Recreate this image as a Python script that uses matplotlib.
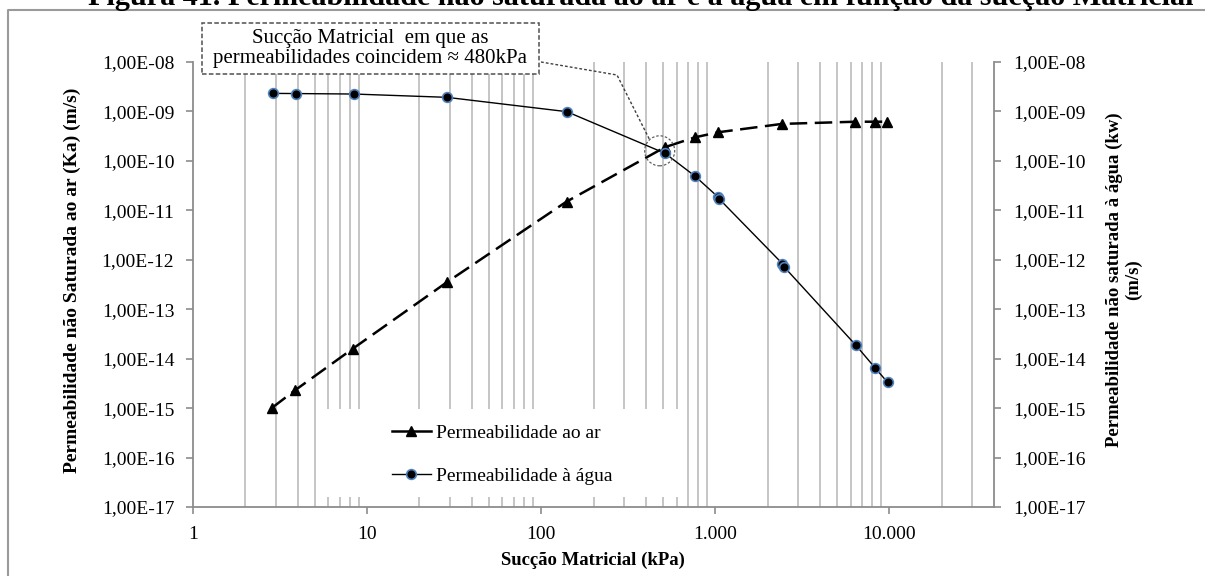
import numpy as np
import matplotlib.pyplot as plt
from matplotlib.ticker import FixedLocator, FixedFormatter, NullLocator
from matplotlib.lines import Line2D
from matplotlib.patches import Rectangle, Ellipse

plt.rcParams['font.family'] = ['Liberation Serif', 'DejaVu Serif']

# Dados (succao em kPa, permeabilidade em m/s)
succao_ar = [2.83, 3.86, 8.3, 28.7, 140, 516, 767, 1045, 2420, 6400, 8270, 9750]
k_ar = [1.0e-15, 2.3e-15, 1.6e-14, 3.5e-13, 1.5e-11, 1.9e-10, 3.0e-10,
        3.8e-10, 5.6e-10, 6.2e-10, 6.2e-10, 6.2e-10]

succao_agua = [2.87, 3.9, 8.4, 28.7, 140.5, 516, 767, 1040, 1055, 2430, 2480,
               6440, 8300, 9800]
k_agua = [2.32e-9, 2.3e-9, 2.25e-9, 1.93e-9, 9.9e-10, 1.42e-10, 4.9e-11,
          1.85e-11, 1.7e-11, 8.4e-13, 7.3e-13, 1.86e-14, 6.5e-15, 3.3e-15]

x_ticks = [1, 10, 100, 1000, 10000]
x_labels = ['1', '10', '100', '1.000', '10.000']
y_exps = list(range(-17, -7))
y_labels = ['1,00E-%02d' % (-e) for e in y_exps]

titulo = 'Figura 41. Permeabilidade não saturada ao ar e à água em função da sucção Matricial'
nota = 'Sucção Matricial  em que as\npermeabilidades coincidem ≈ 480kPa'
ponto_cruz = (480, 1.6e-10)

W, H = 1205, 576
fig = plt.figure(figsize=(W / 100, H / 100), dpi=100)
ax = fig.add_axes([193 / W, 1 - 507 / H, (994 - 193) / W, (507 - 62) / H])
ax2 = ax.twinx()

grid_c = '#c0c0c0'
spine_c = '#8c8c8c'

for a in (ax, ax2):
    a.set_xscale('log')
    a.set_yscale('log')
    a.set_xlim(1, 40000)
    a.set_ylim(1e-17, 1e-8)
    a.yaxis.set_major_locator(FixedLocator([10.0 ** e for e in y_exps]))
    a.yaxis.set_major_formatter(FixedFormatter(y_labels))
    a.yaxis.set_minor_locator(NullLocator())
    a.spines['top'].set_visible(False)
    for s in a.spines.values():
        s.set_color(spine_c)
        s.set_linewidth(1.3)
    a.tick_params(which='major', direction='out', length=5, width=1.2,
                  color=spine_c, labelsize=14, pad=8.5)

ax.spines['right'].set_visible(False)
ax2.spines['left'].set_visible(False)
ax2.spines['bottom'].set_visible(False)

minors = [k * 10 ** d for d in range(0, 5) for k in range(2, 10) if k * 10 ** d < 40000]
ax.xaxis.set_major_locator(FixedLocator(x_ticks))
ax.xaxis.set_major_formatter(FixedFormatter(x_labels))
ax.xaxis.set_minor_locator(FixedLocator(minors))
ax.tick_params(which='minor', length=0)
ax2.tick_params(which='minor', length=0)
ax.set_axisbelow(True)
ax.grid(which='minor', axis='x', color=grid_c, lw=1.3)
ax.grid(which='major', visible=False)

# area branca da legenda (cobre a grade)
ax.add_patch(Rectangle((0.161, 0.022), 0.447, 0.198, transform=ax.transAxes,
                       fc='white', ec='none', zorder=1))

ax.plot(succao_ar, k_ar, color='black', lw=1.8, ls=(0, (7, 3)), marker='^',
        ms=7, zorder=3)
ax2.plot(succao_agua, k_agua, color='black', lw=1.0, marker='o', ms=7,
         mfc='black', mec='#4f81bd', mew=1.2, zorder=3)

handles = [Line2D([], [], color='black', lw=1.8, marker='^', ms=7),
           Line2D([], [], color='black', lw=1.0, marker='o', ms=7,
                  mfc='black', mec='#4f81bd', mew=1.2)]
ax2.legend(handles, ['Permeabilidade ao ar', 'Permeabilidade à água'],
           loc='center left', bbox_to_anchor=(0.236, 0.118), frameon=False,
           borderpad=0, fontsize=14, handlelength=2.0, handletextpad=0.3,
           labelspacing=1.3)

# rotulos dos eixos
fig.text(593 / W, 1 - 560 / H, 'Sucção Matricial (kPa)', ha='center',
         va='center', fontsize=13.5, fontweight='bold')
fig.text(72 / W, 1 - 280 / H, 'Permeabilidade não Saturada ao ar (Ka) (m/s)',
         rotation=90, ha='center', va='center', fontsize=14, fontweight='bold')
fig.text(1124 / W, 1 - 280 / H, 'Permeabilidade não saturada à água (kw)\n(m/s)',
         rotation=90, ha='center', va='center', fontsize=13.5,
         fontweight='bold', multialignment='center', linespacing=1.15)

# titulo (cortado no topo, como no original)
fig.text(88 / W, 1 - 5 / H, titulo, ha='left', va='baseline', fontsize=21.7,
         fontweight='bold')

# moldura
fig.add_artist(Line2D([8 / W, 8 / W, 1.0], [0.0, 1 - 10 / H, 1 - 10 / H],
                      transform=fig.transFigure, color='#9a9a9a', lw=1.5))

# caixa de anotacao
fig.add_artist(Rectangle((202 / W, 1 - 74 / H), 337 / W, 51 / H,
                         transform=fig.transFigure, fc='white', ec='#505050',
                         ls=(0, (3, 1.5)), lw=1.1, zorder=5))
fig.text(370 / W, 1 - 48.5 / H, nota, ha='center', va='center', fontsize=15,
         linespacing=1.1, zorder=6)

cx, cy = ax.transData.transform(ponto_cruz)
cx, cy = cx / W, cy / H
fig.add_artist(Ellipse((cx, cy), 30 / W, 30 / H, transform=fig.transFigure,
                       fill=False, ec='#606060', ls=(0, (2, 1.5)), lw=0.9,
                       zorder=6))
fig.add_artist(Line2D([541 / W, 617 / W, cx - 10 / W],
                      [1 - 62 / H, 1 - 75 / H, cy + 11 / H],
                      transform=fig.transFigure, color='#404040',
                      ls=(0, (2, 1.5)), lw=1.0, zorder=6))

fig.savefig('out.png', dpi=100)
